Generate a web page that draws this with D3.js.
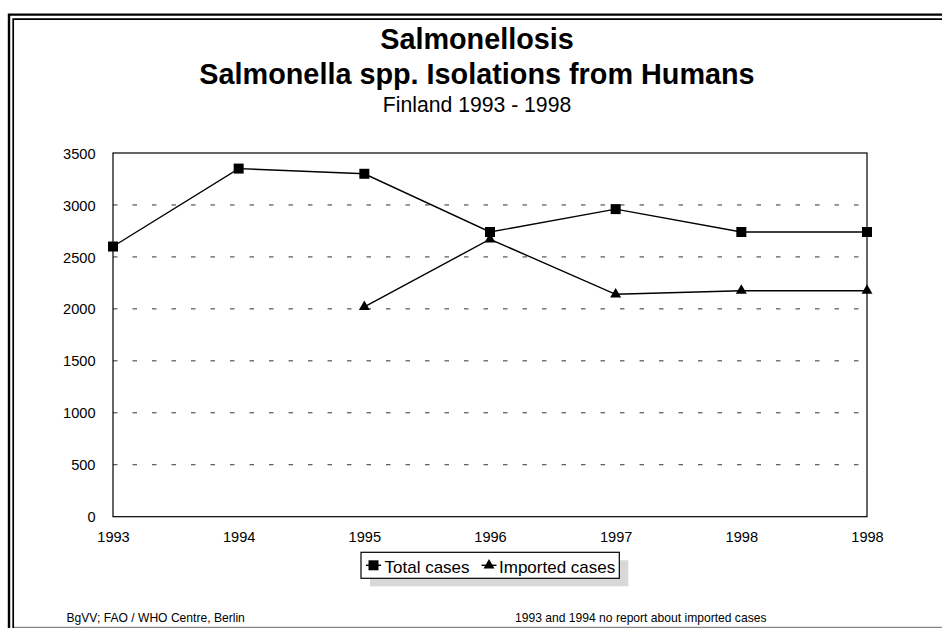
<!DOCTYPE html>
<html>
<head>
<meta charset="utf-8">
<script src="https://cdn.jsdelivr.net/npm/d3@7/dist/d3.min.js"></script>
<style>
  html, body { margin: 0; padding: 0; background: #fff; }
  svg { display: block; }
  text { font-family: "Liberation Sans", Arial, Helvetica, sans-serif; fill: #000; }
</style>
</head>
<body>
<svg id="chart" width="942" height="628"></svg>
<script>
// Salmonella isolations from humans, Finland
const years = ["1993", "1994", "1995", "1996", "1997", "1998", "1998"];
const totalCases = [2600, 3350, 3300, 2740, 2960, 2740, 2740];
const importedCases = [null, null, 2020, 2670, 2140, 2175, 2175];
const yTicks = [0, 500, 1000, 1500, 2000, 2500, 3000, 3500];
const titleLines = ["Salmonellosis", "Salmonella spp. Isolations from Humans"];
const subtitle = "Finland 1993 - 1998";
const seriesNames = ["Total cases", "Imported cases"];
const sourceNote = "BgVV; FAO / WHO Centre, Berlin";
const footNote = "1993 and 1994 no report about imported cases";

const svg = d3.select("#chart");
const W = 942, H = 628;
const plot = { left: 113, right: 867, top: 153, bottom: 516.7 };

// page frame (double rule, open at right)
svg.append("path")
  .attr("d", `M9,${H + 5} V14.6 H${W + 5}`)
  .attr("fill", "none").attr("stroke", "#000").attr("stroke-width", 2.4);
svg.append("path")
  .attr("d", `M13.2,${H + 5} V19.2 H${W + 5}`)
  .attr("fill", "none").attr("stroke", "#000").attr("stroke-width", 1.7);
svg.append("line")
  .attr("x1", 14).attr("x2", W).attr("y1", 627.3).attr("y2", 627.3)
  .attr("stroke", "#888").attr("stroke-width", 1.2);

// titles
const cx = 477;
svg.append("text").attr("x", cx).attr("y", 48.5)
  .attr("text-anchor", "middle").attr("font-size", 28.8).attr("font-weight", "bold")
  .text(titleLines[0]);
svg.append("text").attr("x", cx).attr("y", 83.5)
  .attr("text-anchor", "middle").attr("font-size", 28.8).attr("font-weight", "bold")
  .text(titleLines[1]);
svg.append("text").attr("x", cx).attr("y", 112.3)
  .attr("text-anchor", "middle").attr("font-size", 21.2)
  .text(subtitle);

// scales
const x = d3.scalePoint()
  .domain(d3.range(years.length))
  .range([plot.left, plot.right]);
const y = d3.scaleLinear()
  .domain([0, 3500])
  .range([plot.bottom, plot.top]);

// dashed gridlines
svg.append("g")
  .selectAll("line")
  .data(yTicks.filter(v => v > 0 && v < 3500))
  .join("line")
  .attr("x1", plot.left).attr("x2", plot.right)
  .attr("y1", d => y(d)).attr("y2", d => y(d))
  .attr("stroke", "#333").attr("stroke-width", 1)
  .attr("stroke-dasharray", "4.5 15");

// plot frame
svg.append("rect")
  .attr("x", plot.left).attr("y", plot.top)
  .attr("width", plot.right - plot.left).attr("height", plot.bottom - plot.top)
  .attr("fill", "none").attr("stroke", "#000").attr("stroke-width", 1.2);

// y axis labels
const yAxis = d3.axisLeft(y).tickValues(yTicks).tickFormat(d3.format("d"))
  .tickSize(0).tickPadding(17.5);
const gy = svg.append("g").attr("transform", `translate(${plot.left},0)`).call(yAxis);
gy.select(".domain").remove();
gy.selectAll("text")
  .attr("font-size", 14.6).attr("font-family", null)
  .attr("dy", "0.35em");

// x axis labels
const xAxis = d3.axisBottom(x).tickFormat(i => years[i]).tickSize(0).tickPadding(14.5);
const gx = svg.append("g").attr("transform", `translate(0,${plot.bottom})`).call(xAxis);
gx.select(".domain").remove();
gx.selectAll("text").attr("font-size", 14.6).attr("font-family", null);

// series lines
const line = d3.line()
  .defined(d => d != null)
  .x((d, i) => x(i))
  .y(d => y(d));

svg.append("path").datum(totalCases)
  .attr("d", line).attr("fill", "none")
  .attr("stroke", "#000").attr("stroke-width", 1.4);
svg.append("path").datum(importedCases)
  .attr("d", line).attr("fill", "none")
  .attr("stroke", "#000").attr("stroke-width", 1.4);

// markers
const square = d3.symbol().type(d3.symbolSquare).size(100);
const triangle = d3.symbol().type(d3.symbolTriangle).size(52);

svg.append("g").selectAll("path")
  .data(totalCases.map((v, i) => ({ v, i })))
  .join("path")
  .attr("d", square)
  .attr("transform", d => `translate(${x(d.i)},${y(d.v)})`)
  .attr("fill", "#000");

svg.append("g").selectAll("path")
  .data(importedCases.map((v, i) => ({ v, i })).filter(d => d.v != null))
  .join("path")
  .attr("d", triangle)
  .attr("transform", d => `translate(${x(d.i)},${y(d.v)})`)
  .attr("fill", "#000");

// legend with drop shadow
const lg = { x: 361, y: 552.3, w: 258.3, h: 26 };
svg.append("rect")
  .attr("x", lg.x + 9).attr("y", lg.y + 8).attr("width", lg.w).attr("height", lg.h)
  .attr("fill", "#d8d8d8");
svg.append("rect")
  .attr("x", lg.x).attr("y", lg.y).attr("width", lg.w).attr("height", lg.h)
  .attr("fill", "#fff").attr("stroke", "#000").attr("stroke-width", 1.2);

const legendItems = [
  { name: seriesNames[0], sym: square, mx: 373.5, tx: 384.5 },
  { name: seriesNames[1], sym: triangle, mx: 489, tx: 499 }
];
const ly = lg.y + 13;
legendItems.forEach(it => {
  svg.append("line")
    .attr("x1", it.mx - 7.5).attr("x2", it.mx + 7.5)
    .attr("y1", ly).attr("y2", ly)
    .attr("stroke", "#000").attr("stroke-width", 1.4);
  svg.append("path")
    .attr("d", it.sym)
    .attr("transform", `translate(${it.mx},${ly})`)
    .attr("fill", "#000");
  svg.append("text")
    .attr("x", it.tx).attr("y", 572.5)
    .attr("font-size", 17)
    .text(it.name);
});

// notes
svg.append("text").attr("x", 66.5).attr("y", 621.5)
  .attr("font-size", 12.1).text(sourceNote);
svg.append("text").attr("x", 515).attr("y", 621.5)
  .attr("font-size", 12.1).text(footNote);
</script>
</body>
</html>
